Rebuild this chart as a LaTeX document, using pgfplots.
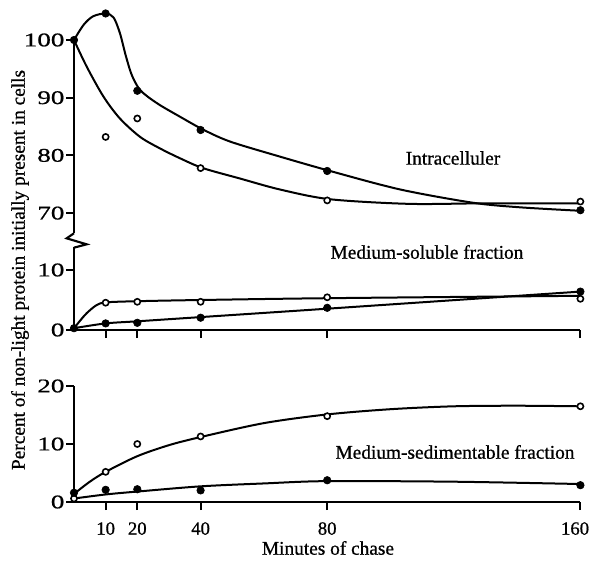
\documentclass[border=0pt]{standalone}
\usepackage{pgfplots}
\pgfplotsset{compat=1.18}
\usepackage{fontspec}
\setmainfont[FakeBold=0.8]{Liberation Serif}
\newfontfamily\ytickfont[FakeStretch=1.4,FakeBold=0.8]{Liberation Serif}
\pgfplotsset{
  panel/.style={
    scale only axis, x=2.37375pt, xmin=0, xmax=160, clip=false,
    axis line style={line width=2.2pt,-},
    tick style={line width=1.6pt, black},
    tick align=outside, major tick length=6pt,
    /pgf/number format/assume math mode=true,
    xticklabel style={font=\fontsize{14}{16}\selectfont, inner sep=2pt, yshift=-7pt},
    yticklabel style={font=\ytickfont\fontsize{14.5}{16}\selectfont, inner sep=1pt},
    anchor=south west,
  },
  fillmk/.style={only marks, mark=*, mark size=2.8pt, mark options={fill=black, draw=black, line width=0.5pt}},
  openmk/.style={only marks, mark=*, mark size=2.3pt, mark options={fill=white, draw=black, line width=1.2pt}},
  crv/.style={smooth, no marks, line width=1.5pt, black},
}
\begin{document}
\begin{tikzpicture}
\useasboundingbox (0,0) rectangle (444pt,420.75pt);
% top panel: intracellular
\begin{axis}[panel, at={(55.5pt,245.775pt)}, y=4.3275pt, ymin=66.5, ymax=100,
  axis x line=none, axis y line*=left, xtick=\empty, ytick={70,80,90,100}]
\addplot[crv] coordinates {(0,100) (3,102.6) (6,104.1) (10,104.6) (12.5,103.9) (14.5,101.2) (16.3,97.4) (18.2,94.0) (20.5,91.6) (23,90.3) (27.2,88.7) (33.5,86.7) (40.7,84.5) (49.3,82.4) (65,79.8) (80.9,77.3) (103,74.1) (126,71.8) (141,71.0) (160,70.4)};
\addplot[crv] coordinates {(0,100) (4,95.4) (9.3,90.2) (14.5,86.4) (20.9,83.2) (27.2,81.2) (33.5,79.5) (40.7,77.8) (52.4,76.0) (65,74.1) (80.9,72.4) (106,71.6) (130,71.7) (160,71.7)};
\addplot[openmk] coordinates {(10,83.2) (20,86.4) (40,77.8) (80,72.2) (160,72.0)};
\addplot[fillmk] coordinates {(0,100) (10,104.6) (20,91.2) (40,84.4) (80,77.3) (160,70.5)};
\end{axis}
% middle panel: medium-soluble
\begin{axis}[panel, at={(55.5pt,173.25pt)}, y=4.5pt, ymin=0, ymax=13.9,
  axis lines*=left, xtick={10,20,40,80,160}, xticklabels={}, ytick={0,10}]
\addplot[crv] coordinates {(0,0.3) (2,1.6) (4,2.8) (7,4.1) (10,4.6) (20,4.8) (40,5.0) (80,5.3) (160,5.7)};
\addplot[crv] coordinates {(0,0.3) (10,1.1) (20,1.45) (40,2.15) (80,3.55) (160,6.4)};
\addplot[openmk] coordinates {(10,4.55) (20,4.7) (40,4.7) (80,5.45) (160,5.2)};
\addplot[fillmk] coordinates {(0,0.3) (10,1.1) (20,1.2) (40,2.05) (80,3.7) (160,6.4)};
\end{axis}
% bottom panel: medium-sedimentable
\begin{axis}[panel, at={(55.5pt,44.25pt)}, y=4.35pt, ymin=0, ymax=20,
  axis lines*=left, xtick={10,20,40,80,160}, xticklabels={10,20,40,80,160\hspace*{8pt}}, ytick={0,10,20}]
\addplot[crv] coordinates {(0,1.4) (5,3.5) (10,5.2) (20,7.9) (30,9.8) (40,11.2) (60,13.6) (80,15.1) (100,16.0) (120,16.5) (140,16.6) (160,16.5)};
\addplot[crv] coordinates {(0,0.6) (10,1.3) (20,1.8) (40,2.7) (60,3.2) (80,3.6) (120,3.5) (160,3.1)};
\addplot[openmk] coordinates {(0,0.6) (10,5.2) (20,10.0) (40,11.3) (80,14.8) (160,16.5)};
\addplot[fillmk] coordinates {(0,1.6) (10,2.1) (20,2.2) (40,2.0) (80,3.75) (160,2.9)};
\end{axis}
% axis break
\draw[line width=1.6pt, line join=miter] (55.5pt,245.8pt) -- (50pt,242pt) -- (65pt,237.5pt) -- (55.5pt,235pt);
% labels
\node[rotate=90, font=\fontsize{14.5}{17}\selectfont] at (15pt,218.25pt) {Percent of non-light protein initially present in cells};
\node[font=\fontsize{14.5}{17}\selectfont] at (339.75pt,302.25pt) {Intracelluler};
\node[font=\fontsize{14.5}{17}\selectfont] at (320.25pt,231.75pt) {Medium-soluble fraction};
\node[font=\fontsize{14.5}{17}\selectfont] at (341.25pt,81.75pt) {Medium-sedimentable fraction};
\node[font=\fontsize{14.5}{17}\selectfont] at (246pt,9.75pt) {Minutes of chase};
\end{tikzpicture}
\end{document}
